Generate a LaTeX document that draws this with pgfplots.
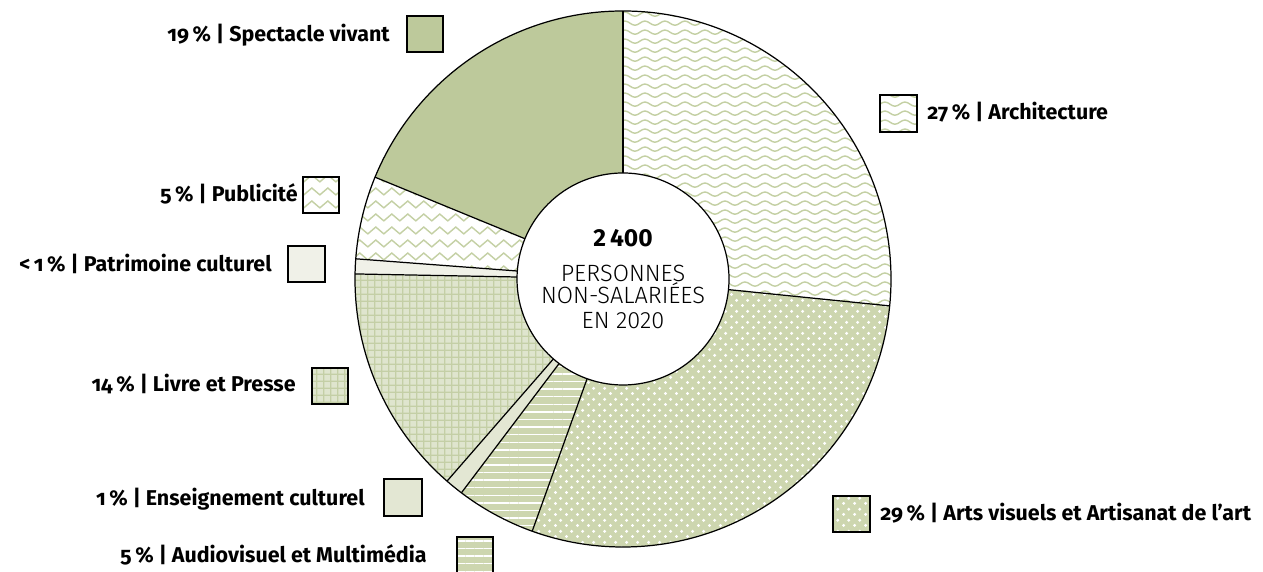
\documentclass[border=0pt]{standalone}
\usepackage{fontspec}
\setmainfont{Fira Sans}[Numbers=OldStyle]
\newfontfamily\liningfont{Fira Sans}[Numbers=Lining]
\IfFontExistsTF{Fira Sans Light}{\newfontfamily\lightfont{Fira Sans Light}[Numbers=Lining]}{\newfontfamily\lightfont{Fira Sans}[Numbers=Lining]}
\usepackage{pgfplots}
\pgfplotsset{compat=1.18}
\usetikzlibrary{patterns.meta}

\definecolor{spectcol}{HTML}{BDC99B}
\definecolor{wavecol}{HTML}{C4D0A4}
\definecolor{artsbg}{HTML}{CDD6AF}
\definecolor{audiobg}{HTML}{CDD6AF}
\definecolor{enscol}{HTML}{E3E7D3}
\definecolor{livrebg}{HTML}{DFE5CE}
\definecolor{livreline}{HTML}{C4CFA6}
\definecolor{patricol}{HTML}{F0F1E8}

\tikzdeclarepattern{
  name=waves, type=uncolored,
  bottom left={(-0.5pt,-1.9pt)}, top right={(11.88pt,1.9pt)},
  tile size={(11.38pt,5.12pt)},
  code={\draw[line width=0.8pt, line cap=round] (0pt,0pt) sin (2.845pt,1.2pt) cos (5.69pt,0pt) sin (8.535pt,-1.2pt) cos (11.38pt,0pt);}
}
\tikzdeclarepattern{
  name=zigzag, type=uncolored,
  bottom left={(-0.5pt,-0.6pt)}, top right={(9.6pt,4.6pt)},
  tile size={(9.1pt,7.4pt)},
  code={\draw[line width=0.8pt, line cap=round, line join=miter] (0pt,0pt) -- (4.55pt,3.9pt) -- (9.1pt,0pt);}
}
\tikzdeclarepattern{
  name=sdots, type=uncolored,
  bottom left={(0pt,0pt)}, top right={(6.3pt,6.3pt)},
  tile size={(6.3pt,6.3pt)},
  code={\fill (1.575pt,1.575pt) circle[radius=1.0pt]; \fill (4.725pt,4.725pt) circle[radius=1.0pt];}
}
\tikzdeclarepattern{
  name=hl, type=uncolored,
  bottom left={(0pt,0pt)}, top right={(5pt,0.8pt)},
  tile size={(5pt,4.32pt)},
  code={\fill (0pt,0pt) rectangle (5pt,0.8pt);}
}
\tikzdeclarepattern{
  name=sgrid, type=uncolored,
  bottom left={(0pt,0pt)}, top right={(4.2pt,4.2pt)},
  tile size={(4.2pt,4.2pt)},
  code={\fill (0pt,0pt) rectangle (4.2pt,0.8pt); \fill (0pt,0pt) rectangle (0.8pt,4.2pt);}
}

\tikzset{
  s-arch/.style={fill=white, postaction={pattern=waves, pattern color=wavecol}},
  s-arts/.style={fill=artsbg, postaction={pattern=sdots, pattern color=white}},
  s-audio/.style={fill=audiobg, postaction={pattern=hl, pattern color=white}},
  s-ens/.style={fill=enscol},
  s-livre/.style={fill=livrebg, postaction={pattern=sgrid, pattern color=livreline}},
  s-patri/.style={fill=patricol},
  s-pub/.style={fill=white, postaction={pattern=zigzag, pattern color=wavecol}},
  s-spect/.style={fill=spectcol},
  lw/.style={draw=black, line width=0.7pt},
  lab/.style={inner sep=0pt, font=\fontsize{12.2}{14}\selectfont\bfseries},
  ctr/.style={inner sep=0pt, anchor=base, font=\lightfont\fontsize{13.4}{15}\selectfont}
}

\begin{document}
\begin{tikzpicture}
\begin{axis}[hide axis, x=1cm, y=1cm, xmin=0, xmax=25.26, ymin=0, ymax=11.44]
\pgfplotsextra{
  \path (axis cs:0,0) rectangle (axis cs:25.26,11.44);
  \coordinate (C) at (axis cs:12.46,5.86);
  % slices (percentages, clockwise from top)
  \def\startang{90}
  \foreach \v/\s in {26.6/arch,28.9/arts,4.8/audio,1.1/ens,13.9/livre,0.9/patri,5.0/pub,18.8/spect}{
    \pgfmathsetmacro\endang{\startang-3.6*\v}
    \path[s-\s] (C) -- ++(\startang:5.36cm) arc[start angle=\startang,end angle=\endang,radius=5.36cm] -- cycle;
    \xdef\startang{\endang}
  }
  \def\startang{90}
  \foreach \v in {26.6,28.9,4.8,1.1,13.9,0.9,5.0,18.8}{
    \pgfmathsetmacro\endang{\startang-3.6*\v}
    \draw[lw] (C) -- ++(\startang:5.36cm);
    \xdef\startang{\endang}
  }
  \draw[lw] (C) circle[radius=5.36cm];
  \draw[lw, fill=white] (C) circle[radius=2.12cm];
  % centre text
  \node[inner sep=0pt, anchor=base, font=\liningfont\bfseries\fontsize{14}{16}\selectfont] at (axis cs:12.46,6.506) {2\,400};
  \node[ctr] at (axis cs:12.46,5.806) {PERSONNES};
  \node[ctr] at (axis cs:12.46,5.36) {NON-SALARIÉES};
  \node[ctr] at (axis cs:12.46,4.874) {EN 2020};
  % legend boxes
  \foreach \s/\xa/\ya/\xb/\yb in {spect/8.14/10.40/8.86/11.12, arch/17.60/8.80/18.34/9.54, pub/6.06/7.18/6.78/7.90, patri/5.76/5.80/6.50/6.52, livre/6.24/3.36/6.96/4.08, ens/7.68/1.12/8.44/1.86, arts/16.66/0.80/17.40/1.52}{
    \path[s-\s] (axis cs:\xa,\ya) rectangle (axis cs:\xb,\yb);
    \draw[lw] (axis cs:\xa,\ya) rectangle (axis cs:\xb,\yb);
  }
  \path[s-audio] (axis cs:9.14,0) rectangle (axis cs:9.86,0.70);
  \draw[lw] (axis cs:9.14,0) -- (axis cs:9.14,0.70) -- (axis cs:9.86,0.70) -- (axis cs:9.86,0);
  % labels
  \node[lab, anchor=base east] at (axis cs:7.80,10.61) {19\,\% | Spectacle vivant};
  \node[lab, anchor=base west] at (axis cs:18.54,9.05) {27\,\% | Architecture};
  \node[lab, anchor=base east] at (axis cs:5.96,7.40) {5\,\% | Publicité};
  \node[lab, anchor=base east] at (axis cs:5.44,6.01) {<\,1\,\% | Patrimoine culturel};
  \node[lab, anchor=base east] at (axis cs:5.92,3.60) {14\,\% | Livre et Presse};
  \node[lab, anchor=base east] at (axis cs:7.30,1.326) {1\,\% | Enseignement culturel};
  \node[lab, anchor=base east] at (axis cs:8.54,0.194) {5\,\% | Audiovisuel et Multimédia};
  \node[lab, anchor=base west] at (axis cs:17.60,1.02) {29\,\% | Arts visuels et Artisanat de l’art};
}
\end{axis}
\end{tikzpicture}
\end{document}
